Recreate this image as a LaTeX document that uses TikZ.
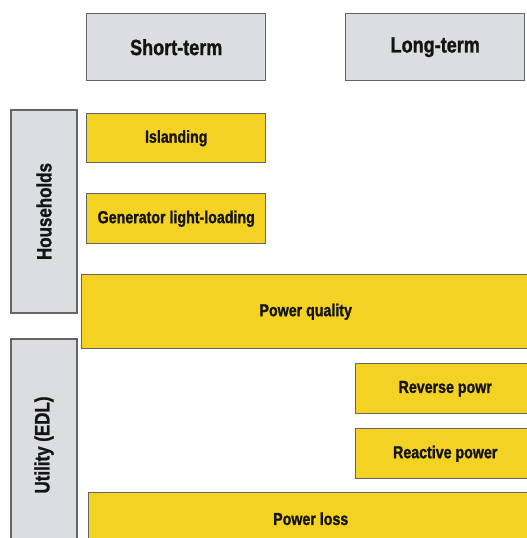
\documentclass[tikz,border=0pt]{standalone}
\usepackage{fontspec}
\setmainfont{Liberation Sans}[FakeStretch=0.82,BoldFeatures={FakeBold=1.2}]
\usetikzlibrary{positioning}
\definecolor{boxgray}{HTML}{DCDDE0}
\definecolor{boxyellow}{HTML}{F3D223}
\definecolor{boxline}{HTML}{656565}
\definecolor{boxtext}{HTML}{141414}

\begin{document}
\begin{tikzpicture}[x=0.75pt,y=-0.75pt,
  every node/.style={draw=boxline,line width=1.1pt,align=center,inner sep=0pt,text=boxtext},
  headbox/.style={fill=boxgray,anchor=north west,font=\bfseries\fontsize{16.5}{18}\selectfont,minimum width=134.25pt,minimum height=50.25pt},
  sidebox/.style={fill=boxgray,rotate=90,font=\bfseries\fontsize{15.5}{17}\selectfont,minimum height=49.5pt},
  issuebox/.style={fill=boxyellow,anchor=north west,font=\bfseries\fontsize{13}{15}\selectfont}]
\useasboundingbox (0,0) rectangle (526,538);
% time columns
\node [headbox] (ShortTerm) at (86,13) {Short-term};
\node [headbox] (LongTerm) at (345,13) {Long-term};
% stakeholders
\node [sidebox,minimum width=152.25pt] (Households) at (44,211.5) {Households};
\node [sidebox,minimum width=159pt] (Utility) at (44,445) {Utility (EDL)};
% issues
\node [issuebox,minimum width=134.25pt,minimum height=36.75pt] (Islanding) at (86,113) {Islanding};
\node [issuebox,minimum width=134.25pt,minimum height=37.5pt] (LightLoading) at (86,193) {Generator light-loading};
\node [issuebox,minimum width=336pt,minimum height=55.5pt] (PowerQuality) at (81,274) {Power quality};
\node [issuebox,minimum width=134.25pt,minimum height=37.5pt] (ReversePower) at (355,363) {Reverse powr};
\node [issuebox,minimum width=134.25pt,minimum height=37.5pt] (ReactivePower) at (355,428) {Reactive power};
\node [issuebox,minimum width=333pt,minimum height=39pt] (PowerLoss) at (88,492) {Power loss};
\end{tikzpicture}
\end{document}
